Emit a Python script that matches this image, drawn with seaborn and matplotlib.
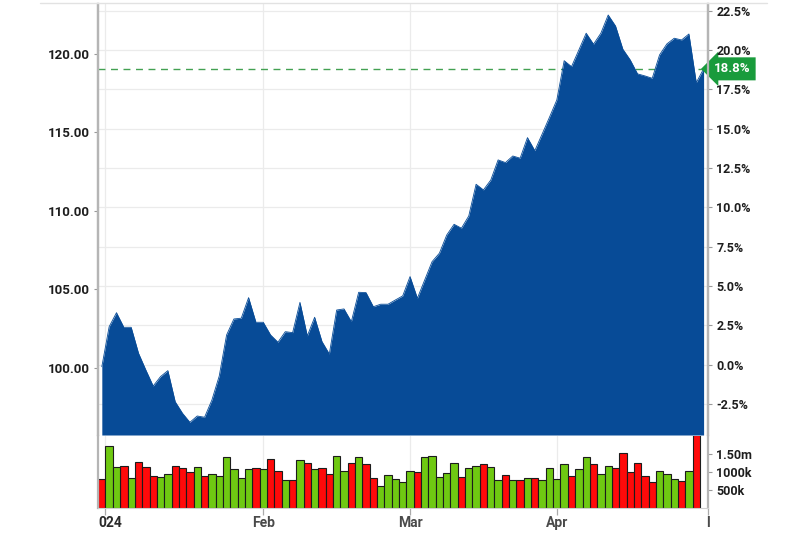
import numpy as np
import pandas as pd
import seaborn as sns
import matplotlib.pyplot as plt
import matplotlib.transforms as mtransforms
from matplotlib.lines import Line2D

# daily closes (trading-day index)
price = [100.08, 102.63, 103.52, 102.59, 102.59, 100.94, 99.87, 98.85, 99.45, 99.83,
         97.85, 97.11, 96.54, 96.94, 96.86, 97.96, 99.49, 102.10, 103.12, 103.17,
         104.48, 102.91, 102.91, 102.10, 101.64, 102.31, 102.25, 104.18, 102.04, 103.23,
         101.68, 100.89, 103.69, 103.76, 102.95, 104.82, 104.80, 103.90, 104.06, 104.06,
         104.33, 104.59, 105.82, 104.44, 105.61, 106.77, 107.31, 108.47, 109.15, 108.90,
         109.68, 111.70, 111.34, 111.97, 113.25, 113.08, 113.50, 113.36, 114.67, 113.84,
         114.90, 115.97, 117.07, 119.57, 119.19, 120.25, 121.32, 120.62, 121.32, 122.48,
         121.78, 120.30, 119.62, 118.73, 118.60, 118.45, 119.94, 120.64, 121.00, 120.89,
         121.27, 118.17, 119.05]
base_price = 100.2

# volume in millions, R = down day, G = up day
volume = [0.81, 1.74, 1.14, 1.18, 0.85, 1.28, 1.14, 0.90, 0.87, 0.95,
          1.18, 1.11, 1.01, 1.14, 0.90, 0.95, 0.90, 1.43, 1.08, 0.85,
          1.09, 1.11, 1.08, 1.37, 1.04, 0.78, 0.78, 1.34, 1.25, 1.08,
          1.11, 0.95, 1.46, 1.04, 1.25, 1.43, 1.22, 0.85, 0.61, 0.91,
          0.81, 0.72, 1.04, 1.01, 1.41, 1.46, 0.87, 0.99, 1.25, 0.87,
          1.11, 1.17, 1.22, 1.14, 0.78, 0.92, 0.78, 0.78, 0.85, 0.85,
          0.78, 1.11, 0.81, 1.22, 0.89, 1.08, 1.43, 1.22, 0.95, 1.18,
          1.11, 1.54, 1.01, 1.25, 0.89, 0.73, 1.04, 0.95, 0.81, 0.75,
          1.04, 2.25]
direction = ("RGGRGRRRGG" "RRRGRGGGGG" "GRGRRGRGRG" "RRGGRGRRGG" "GGGRGGGGGR"
             "GGRGGRGRGR" "GGGGRGGRGG" "RRRRRRGGGR" "GR")

month_pos = [0.5, 22, 42, 62, 82.6]
month_labels = ['024', 'Feb', 'Mar', 'Apr', 'l']
price_ticks = [100, 105, 110, 115, 120]
price_labels = ['100.00', '105.00', '110.00', '115.00', '120.00']
pct_ticks = [-2.5, 0.0, 2.5, 5.0, 7.5, 10.0, 12.5, 15.0, 17.5, 20.0, 22.5]
vol_ticks = [0.5, 1.0, 1.5]
vol_labels = ['500k', '1000k', '1.50m']

blue = '#074b97'
green = '#6fc912'
red = '#ff0a0a'
grid_c = '#ebebeb'
axis_c = '#b5b5b5'

sns.set_theme(style="white")
plt.rcParams['font.family'] = ['Roboto', 'DejaVu Sans']

fig = plt.figure(figsize=(8, 5.33), dpi=100)
W, H = 800, 533
x0, x1 = 98 / W, 708 / W
ax = fig.add_axes([x0, 1 - 435 / H, x1 - x0, (435 - 4) / H])
vax = fig.add_axes([x0, 1 - 508 / H, x1 - x0, (508 - 436) / H])

xlim = (-0.52, 82.6)
ylim = (95.73, 123.18)

# price area
xs = np.arange(len(price))
ax.fill_between(xs, price, ylim[0], color=blue, lw=0, zorder=2)
sns.lineplot(x=xs, y=price, color=blue, lw=0.6, ax=ax, zorder=2)
ax.axhline(price[-1], color='#43a152', lw=1, ls=(0, (5, 4)), zorder=1)
ax.set_xlim(xlim)
ax.set_ylim(ylim)

ax.set_yticks(price_ticks)
ax.set_yticklabels(price_labels)
ax.set_yticks([base_price * (1 + p / 100) for p in pct_ticks], minor=True)
ax.set_xticks(month_pos[:4])
ax.tick_params(axis='x', length=0, labelbottom=False)
ax.tick_params(axis='y', which='major', left=True, length=3, width=0.8,
               color='#999999', labelcolor='#1e1e1e', labelsize=9.5, pad=3)
ax.tick_params(axis='y', which='minor', length=0)
ax.grid(False)
ax.grid(axis='y', which='minor', color=grid_c, lw=0.9)
ax.grid(axis='x', which='major', color=grid_c, lw=0.9)
for lab in ax.get_yticklabels():
    lab.set_fontweight('bold')

pax = ax.twinx()
pax.set_ylim((ylim[0] / base_price - 1) * 100, (ylim[1] / base_price - 1) * 100)
pax.set_yticks(pct_ticks)
pax.set_yticklabels([f"{p:.1f}%" for p in pct_ticks])
pax.tick_params(axis='y', right=True, length=3, width=0.8, color='#999999',
                labelcolor='#1e1e1e', labelsize=9, pad=3)
pax.grid(False)
for lab in pax.get_yticklabels():
    lab.set_fontweight('bold')

for a in (ax, pax):
    for s in ('top', 'bottom'):
        a.spines[s].set_visible(False)
    for s in ('left', 'right'):
        a.spines[s].set_color(axis_c)
        a.spines[s].set_linewidth(1.6)

# last value flag
last_pct = (price[-1] / base_price - 1) * 100
flag_tr = mtransforms.blended_transform_factory(fig.transFigure, ax.transData)
ax.text(714 / W, price[-1], f"{last_pct:.1f}%", transform=flag_tr, ha='left', va='center',
        color='white', fontsize=9.5, fontweight='bold', clip_on=False, zorder=10,
        bbox=dict(boxstyle='larrow,pad=0.38', fc='#199b3c', ec='none'))

# volume bars
vdf = pd.DataFrame({'idx': np.arange(len(volume)), 'vol': volume,
                    'dir': ['down' if d == 'R' else 'up' for d in direction]})
sns.barplot(data=vdf, x='idx', y='vol', hue='dir', palette={'up': green, 'down': red},
            dodge=False, width=1.0, saturation=1, edgecolor='#1c1c1c', linewidth=0.8,
            legend=False, ax=vax, zorder=2)
vax.set_xlim(xlim)
vax.set_ylim(0, 2.01)
vax.set_xlabel('')
vax.set_ylabel('')
vax.yaxis.tick_right()
vax.set_yticks(vol_ticks)
vax.set_yticklabels(vol_labels)
vax.tick_params(axis='y', right=True, length=3, width=0.8, color='#999999',
                labelcolor='#1e1e1e', labelsize=9, pad=3)
vax.set_xticks(month_pos)
vax.set_xticklabels(month_labels)
vax.tick_params(axis='x', bottom=True, length=5, width=0.9, color='#aaaaaa',
                labelcolor='#4a4a4a', labelsize=10, pad=1)
vax.grid(False)
vax.grid(axis='x', color=grid_c, lw=0.9)
for lab in vax.get_yticklabels() + vax.get_xticklabels():
    lab.set_fontweight('bold')
first = vax.get_xticklabels()[0]
first.set_ha('left')
first.set_color('#2a2a2a')
first.set_transform(first.get_transform() +
                    mtransforms.ScaledTranslation(-7.5 / 100, 0, fig.dpi_scale_trans))
vax.spines['top'].set_visible(False)
vax.spines['bottom'].set_color('#d0d0d0')
vax.spines['bottom'].set_linewidth(0.8)
for s in ('left', 'right'):
    vax.spines[s].set_color(axis_c)
    vax.spines[s].set_linewidth(1.6)

# thin frame line along the top
fig.add_artist(Line2D([40 / W, 767 / W], [1 - 3 / H, 1 - 3 / H],
                      transform=fig.transFigure, color='#e2e2e2', lw=1))

fig.savefig('out.png', dpi=100, facecolor='white')
